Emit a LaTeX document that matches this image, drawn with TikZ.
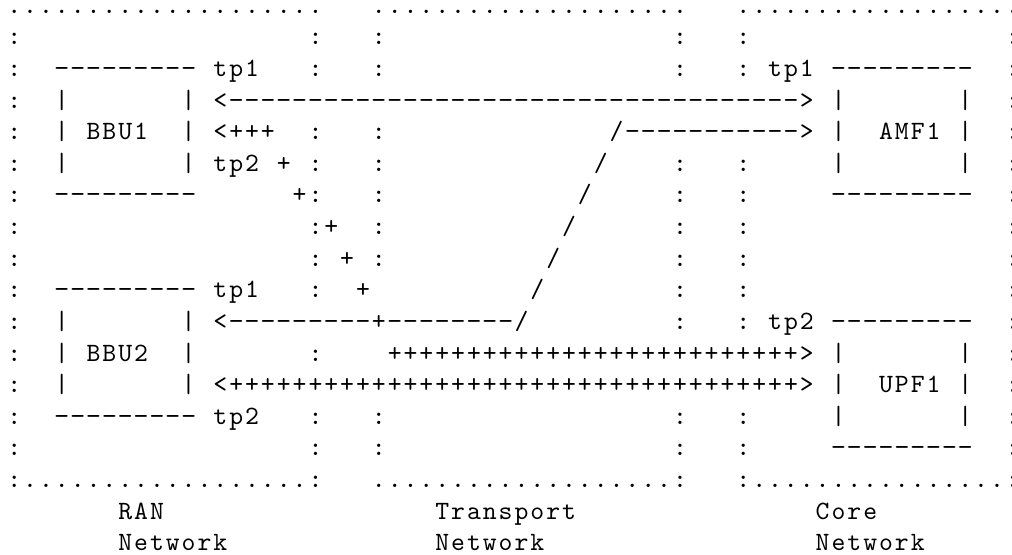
\documentclass[tikz,border=0pt]{standalone}
\usepackage{graphicx}
\usepackage{tikz}
\newlength\cellw
\setlength\cellw{6pt}
\ExplSyntaxOn
\NewDocumentCommand\asc{m}{\tl_map_inline:nn {#1} {\makebox[\cellw]{##1}}}
\NewDocumentCommand\ascrep{mm}{\prg_replicate:nn {#1} {\makebox[\cellw]{#2}}}
\NewDocumentCommand\ascdash{m}{\prg_replicate:nn {#1} {\makebox[\cellw]{\scalebox{1.1}[1]{-}}}}
\ExplSyntaxOff
\newcommand\ascsk[1]{\hspace*{#1\cellw}}
\tikzset{asciirow/.style={anchor=base west, inner sep=0pt, outer sep=0pt,
  font=\ttfamily\fontsize{10}{12}\selectfont, text=black}}
\begin{document}
\begin{tikzpicture}[x=0.37855pt, y=-0.37855pt]
\useasboundingbox (0,0) rectangle (1012,555);
\fill[white] (0,0) rectangle (1012,555);
\clip (0,0) rectangle (1012,555);
\node[asciirow] (r1) at (6.4,13.2) {\ascrep{20}{.}\ascsk{3}\ascrep{20}{.}\ascsk{3}\ascrep{18}{.}};
\node[asciirow] (r2) at (6.4,44.82) {\asc{:}\ascsk{18}\asc{:}\ascsk{3}\asc{:}\ascsk{18}\asc{:}\ascsk{3}\asc{:}\ascsk{16}\asc{:}};
\node[asciirow] (r3) at (6.4,76.44) {\asc{:}\ascsk{2}\ascdash{9}\ascsk{1}\asc{tp1}\ascsk{3}\asc{:}\ascsk{3}\asc{:}\ascsk{18}\asc{:}\ascsk{3}\asc{:}\ascsk{1}\asc{tp1}\ascsk{1}\ascdash{9}\ascsk{2}\asc{:}};
\node[asciirow] (r4) at (6.4,108.06) {\asc{:}\ascsk{2}\asc{|}\ascsk{7}\asc{|}\ascsk{1}\asc{<}\ascdash{36}\asc{>}\ascsk{1}\asc{|}\ascsk{7}\asc{|}\ascsk{2}\asc{:}};
\node[asciirow] (r5) at (6.4,139.68) {\asc{:}\ascsk{2}\asc{|}\ascsk{1}\asc{BBU1}\ascsk{2}\asc{|}\ascsk{1}\asc{<+++}\ascsk{2}\asc{:}\ascsk{3}\asc{:}\ascsk{14}\asc{/}\ascdash{11}\asc{>}\ascsk{1}\asc{|}\ascsk{2}\asc{AMF1}\ascsk{1}\asc{|}\ascsk{2}\asc{:}};
\node[asciirow] (r6) at (6.4,171.30) {\asc{:}\ascsk{2}\asc{|}\ascsk{7}\asc{|}\ascsk{1}\asc{tp2}\ascsk{1}\asc{+}\ascsk{1}\asc{:}\ascsk{3}\asc{:}\ascsk{13}\asc{/}\ascsk{4}\asc{:}\ascsk{3}\asc{:}\ascsk{5}\asc{|}\ascsk{7}\asc{|}\ascsk{2}\asc{:}};
\node[asciirow] (r7) at (6.4,202.92) {\asc{:}\ascsk{2}\ascdash{9}\ascsk{6}\asc{+:}\ascsk{3}\asc{:}\ascsk{12}\asc{/}\ascsk{5}\asc{:}\ascsk{3}\asc{:}\ascsk{5}\ascdash{9}\ascsk{2}\asc{:}};
\node[asciirow] (r8) at (6.4,234.54) {\asc{:}\ascsk{18}\asc{:+}\ascsk{2}\asc{:}\ascsk{11}\asc{/}\ascsk{6}\asc{:}\ascsk{3}\asc{:}\ascsk{16}\asc{:}};
\node[asciirow] (r9) at (6.4,266.16) {\asc{:}\ascsk{18}\asc{:}\ascsk{1}\asc{+}\ascsk{1}\asc{:}\ascsk{10}\asc{/}\ascsk{7}\asc{:}\ascsk{3}\asc{:}\ascsk{16}\asc{:}};
\node[asciirow] (r10) at (6.4,297.78) {\asc{:}\ascsk{2}\ascdash{9}\ascsk{1}\asc{tp1}\ascsk{3}\asc{:}\ascsk{2}\asc{+}\ascsk{10}\asc{/}\ascsk{8}\asc{:}\ascsk{3}\asc{:}\ascsk{16}\asc{:}};
\node[asciirow] (r11) at (6.4,329.40) {\asc{:}\ascsk{2}\asc{|}\ascsk{7}\asc{|}\ascsk{1}\asc{<}\ascdash{9}\asc{+}\ascdash{8}\asc{/}\ascsk{9}\asc{:}\ascsk{3}\asc{:}\ascsk{1}\asc{tp2}\ascsk{1}\ascdash{9}\ascsk{2}\asc{:}};
\node[asciirow] (r12) at (6.4,361.02) {\asc{:}\ascsk{2}\asc{|}\ascsk{1}\asc{BBU2}\ascsk{2}\asc{|}\ascsk{7}\asc{:}\ascsk{4}\ascrep{26}{+}\asc{>}\ascsk{1}\asc{|}\ascsk{7}\asc{|}\ascsk{2}\asc{:}};
\node[asciirow] (r13) at (6.4,392.64) {\asc{:}\ascsk{2}\asc{|}\ascsk{7}\asc{|}\ascsk{1}\asc{<}\ascrep{36}{+}\asc{>}\ascsk{1}\asc{|}\ascsk{2}\asc{UPF1}\ascsk{1}\asc{|}\ascsk{2}\asc{:}};
\node[asciirow] (r14) at (6.4,424.26) {\asc{:}\ascsk{2}\ascdash{9}\ascsk{1}\asc{tp2}\ascsk{3}\asc{:}\ascsk{3}\asc{:}\ascsk{18}\asc{:}\ascsk{3}\asc{:}\ascsk{5}\asc{|}\ascsk{7}\asc{|}\ascsk{2}\asc{:}};
\node[asciirow] (r15) at (6.4,455.88) {\asc{:}\ascsk{18}\asc{:}\ascsk{3}\asc{:}\ascsk{18}\asc{:}\ascsk{3}\asc{:}\ascsk{5}\ascdash{9}\ascsk{2}\asc{:}};
\node[asciirow] (r16) at (6.4,487.50) {\asc{:}\ascrep{18}{.}\asc{:}\ascsk{3}\ascrep{19}{.}\asc{:}\ascsk{3}\asc{:}\ascrep{16}{.}\asc{:}};
\node[asciirow] (r17) at (6.4,519.12) {\ascsk{7}\asc{RAN}\ascsk{17}\asc{Transport}\ascsk{15}\asc{Core}};
\node[asciirow] (r18) at (6.4,550.74) {\ascsk{7}\asc{Network}\ascsk{13}\asc{Network}\ascsk{17}\asc{Network}};
\end{tikzpicture}
\end{document}
